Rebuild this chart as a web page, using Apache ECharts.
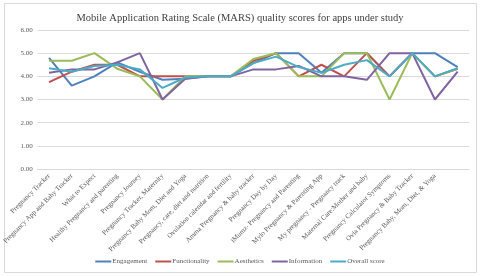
<!DOCTYPE html>
<html>
<head>
<meta charset="utf-8">
<script src="https://cdn.jsdelivr.net/npm/echarts@6/dist/echarts.min.js"></script>
<style>
html,body{margin:0;padding:0;background:#fff;}
#c{width:480px;height:276px;}
</style>
</head>
<body>
<div id="c"></div>
<script>
const categories = [
  "Pregnancy Tracker",
  "Pregnancy App and Baby Tracker",
  "What to Expect",
  "Healthy Pregnancy and parenting",
  "Pregnancy Journey",
  "Pregnancy Tracker, Maternity",
  "Pregnancy Baby Mom, Diet and Yoga",
  "Pregnancy, care, diet and nutrition",
  "Ovulation calendar and fertility",
  "Amma Pregnancy & baby tracker",
  "Pregnancy Day by Day",
  "iMumz- Pregnancy and Parenting",
  "Mylo Pregnancy & Parenting App",
  "My pregnancy - Pregnancy track",
  "Maternal Care:Mother and baby",
  "Pregnancy Calculator Symptoms",
  "Ovia Pregnancy & Baby Tracker",
  "Pregnancy Baby, Mom, Diet, & Yoga",
  ""
];
const engagement    = [4.80, 3.60, 4.00, 4.60, 4.20, 3.85, 3.90, 4.00, 4.00, 4.57, 5.00, 5.00, 4.15, 5.00, 5.00, 4.00, 5.00, 5.00, 4.40];
const functionality = [3.75, 4.20, 4.50, 4.50, 4.00, 4.00, 4.00, 4.00, 4.00, 4.67, 5.00, 4.00, 4.50, 4.00, 5.00, 4.00, 5.00, 4.00, 4.33];
const aesthetics    = [4.67, 4.67, 5.00, 4.33, 4.00, 3.00, 4.00, 4.00, 4.00, 4.75, 5.00, 4.00, 4.00, 5.00, 5.00, 3.00, 5.00, 4.00, 4.33];
const information   = [4.15, 4.30, 4.30, 4.60, 5.00, 3.00, 3.90, 4.00, 4.00, 4.30, 4.30, 4.45, 4.00, 4.00, 3.85, 5.00, 5.00, 3.00, 4.20];
const overall       = [4.35, 4.20, 4.45, 4.50, 4.30, 3.50, 3.95, 4.00, 4.00, 4.57, 4.85, 4.40, 4.15, 4.50, 4.70, 4.00, 5.00, 4.00, 4.35];
const yTicks = [0, 1, 2, 3, 4, 5, 6];

const seriesDefs = [
  ["Engagement", engagement, "#4F81BD"],
  ["Functionality", functionality, "#C0504D"],
  ["Aesthetics", aesthetics, "#9BBB59"],
  ["Information", information, "#8064A2"],
  ["Overall score", overall, "#4BACC6"]
];

const FONT = "Liberation Serif";
const chart = echarts.init(document.getElementById('c'), null, {renderer: 'canvas'});
chart.setOption({
  animation: false,
  backgroundColor: '#fff',
  title: {
    text: "Mobile Application Rating Scale (MARS) quality scores for apps under study",
    left: 'center', top: 8,
    textStyle: {fontFamily: FONT, fontSize: 10.5, fontWeight: 'normal', color: '#404040'}
  },
  graphic: [{
    type: 'rect', shape: {x: 4.5, y: 3.5, width: 472, height: 269},
    style: {fill: 'none', stroke: '#d9d9d9', lineWidth: 1}, silent: true
  }],
  grid: {left: 37, right: 11, top: 30, bottom: 107},
  legend: {
    bottom: 6, left: 'center',
    icon: 'rect', itemWidth: 16, itemHeight: 2, itemGap: 8,
    textStyle: {fontFamily: FONT, fontSize: 7, color: '#595959', padding: [0, 0, 0, -4]},
    data: seriesDefs.map(d => d[0])
  },
  xAxis: {
    type: 'category', data: categories, boundaryGap: true,
    axisTick: {show: false},
    axisLine: {lineStyle: {color: '#d9d9d9'}},
    axisLabel: {rotate: 45, interval: 0, fontFamily: FONT, fontSize: 7, color: '#595959', margin: 6}
  },
  yAxis: {
    type: 'value', min: yTicks[0], max: yTicks[yTicks.length - 1], interval: 1,
    axisLine: {show: false}, axisTick: {show: false},
    splitLine: {lineStyle: {color: '#d9d9d9', width: 1}},
    axisLabel: {formatter: v => v.toFixed(2), fontFamily: FONT, fontSize: 7, color: '#595959', margin: 5}
  },
  series: seriesDefs.map(d => ({
    name: d[0], type: 'line', data: d[1], symbol: 'none',
    lineStyle: {color: d[2], width: 2}, itemStyle: {color: d[2]}
  }))
});
</script>
</body>
</html>
